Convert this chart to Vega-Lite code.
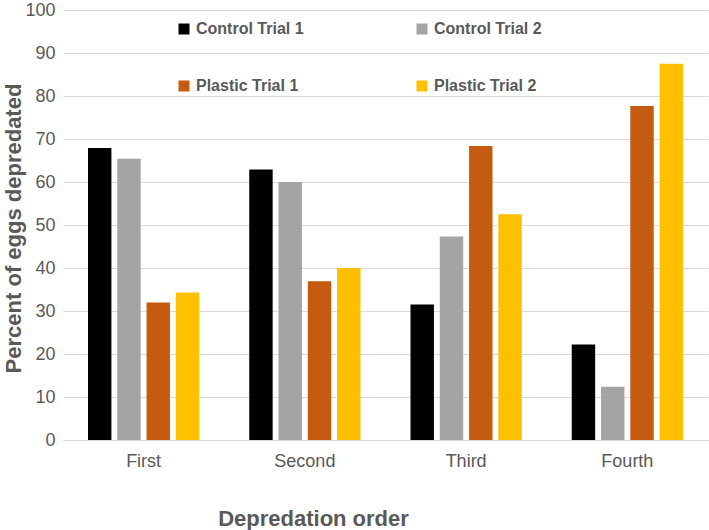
{
  "$schema": "https://vega.github.io/schema/vega-lite/v6.json",
  "width": 645,
  "height": 430,
  "autosize": "none",
  "padding": {"left": 63, "top": 10, "right": 1, "bottom": 90},
  "background": "white",
  "config": {
    "font": "Liberation Sans",
    "view": {"stroke": null}
  },
  "data": {
    "values": [
      {"order": "First", "series": "Control Trial 1", "value": 67.9},
      {"order": "First", "series": "Control Trial 2", "value": 65.4},
      {"order": "First", "series": "Plastic Trial 1", "value": 32.0},
      {"order": "First", "series": "Plastic Trial 2", "value": 34.3},
      {"order": "Second", "series": "Control Trial 1", "value": 62.9},
      {"order": "Second", "series": "Control Trial 2", "value": 60.0},
      {"order": "Second", "series": "Plastic Trial 1", "value": 36.9},
      {"order": "Second", "series": "Plastic Trial 2", "value": 40.0},
      {"order": "Third", "series": "Control Trial 1", "value": 31.5},
      {"order": "Third", "series": "Control Trial 2", "value": 47.3},
      {"order": "Third", "series": "Plastic Trial 1", "value": 68.4},
      {"order": "Third", "series": "Plastic Trial 2", "value": 52.5},
      {"order": "Fourth", "series": "Control Trial 1", "value": 22.2},
      {"order": "Fourth", "series": "Control Trial 2", "value": 12.4},
      {"order": "Fourth", "series": "Plastic Trial 1", "value": 77.7},
      {"order": "Fourth", "series": "Plastic Trial 2", "value": 87.5}
    ]
  },
  "mark": {"type": "bar"},
  "encoding": {
    "x": {
      "field": "order",
      "type": "nominal",
      "sort": ["First", "Second", "Third", "Fourth"],
      "scale": {"paddingInner": 0.31, "paddingOuter": 0.155},
      "axis": {
        "title": "Depredation order",
        "titleFontSize": 22,
        "titleFontWeight": "bold",
        "titleColor": "#595959",
        "titleX": 250,
        "titleY": 78,
        "titleAlign": "center",
        "titleBaseline": "middle",
        "labelAngle": 0,
        "labelFontSize": 18,
        "labelColor": "#595959",
        "labelPadding": 12,
        "ticks": false,
        "domainColor": "#d9d9d9",
        "grid": false
      }
    },
    "xOffset": {
      "field": "series",
      "type": "nominal",
      "sort": ["Control Trial 1", "Control Trial 2", "Plastic Trial 1", "Plastic Trial 2"],
      "scale": {"paddingInner": 0.2, "paddingOuter": 0}
    },
    "y": {
      "field": "value",
      "type": "quantitative",
      "scale": {"domain": [0, 100]},
      "axis": {
        "title": "Percent of eggs depredated",
        "titleFontSize": 22,
        "titleFontWeight": "bold",
        "titleColor": "#595959",
        "titleX": -50,
        "titleY": 218,
        "titleAngle": -90,
        "titleAlign": "center",
        "titleBaseline": "middle",
        "values": [0, 10, 20, 30, 40, 50, 60, 70, 80, 90, 100],
        "labelFontSize": 18,
        "labelColor": "#595959",
        "labelPadding": 8,
        "ticks": false,
        "domain": false,
        "gridColor": "#d9d9d9"
      }
    },
    "color": {
      "field": "series",
      "type": "nominal",
      "sort": ["Control Trial 1", "Control Trial 2", "Plastic Trial 1", "Plastic Trial 2"],
      "scale": {
        "domain": ["Control Trial 1", "Control Trial 2", "Plastic Trial 1", "Plastic Trial 2"],
        "range": ["#000000", "#a5a3a3", "#c55a11", "#ffc000"]
      },
      "legend": {
        "title": null,
        "orient": "none",
        "legendX": 113,
        "legendY": 11,
        "direction": "horizontal",
        "columns": 2,
        "columnPadding": 110,
        "rowPadding": 41,
        "symbolType": "square",
        "symbolSize": 121,
        "symbolStrokeWidth": 0,
        "labelFontSize": 16,
        "labelFontWeight": "bold",
        "labelColor": "#595959",
        "labelOffset": 4
      }
    }
  }
}
